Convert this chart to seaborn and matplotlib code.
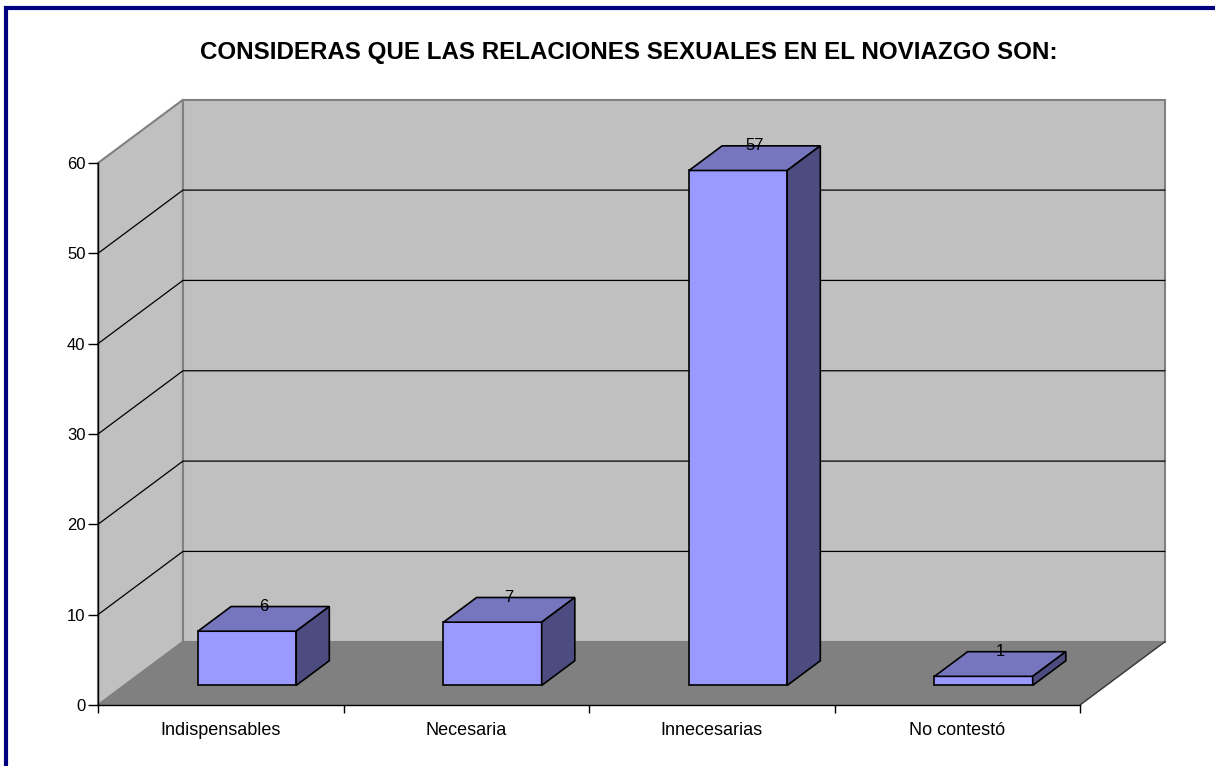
import numpy as np
import matplotlib
matplotlib.use("Agg")
import matplotlib.pyplot as plt
from matplotlib.patches import Polygon, Rectangle
from matplotlib.lines import Line2D
import seaborn as sns

# chart data
title = "CONSIDERAS QUE LAS RELACIONES SEXUALES EN EL NOVIAZGO SON:"
categories = ["Indispensables", "Necesaria", "Innecesarias", "No contestó"]
counts = [6, 7, 57, 1]
y_ticks = [0, 10, 20, 30, 40, 50, 60]

# 3d look (in data units of the front plane)
DX, DY = 0.346, 7.0          # full depth of the box
F0, FD = 0.31, 0.39          # where the bars sit in depth, and their depth
BAR_W = 0.4
FRONT, TOP, SIDE = "#9999FF", "#7676BF", "#4C4C80"
WALL, FLOOR, EDGE = "#C0C0C0", "#808080", "#808080"


def main():
    sns.set_style("white")
    plt.rcParams['font.family'] = ['Liberation Sans', 'DejaVu Sans']
    for key in ['text.color', 'xtick.color', 'ytick.color', 'axes.labelcolor']:
        plt.rcParams[key] = 'black'

    fig = plt.figure(figsize=(12.15, 7.66), dpi=100)
    ax = fig.add_axes([98 / 1215, 61 / 766, 982 / 1215, 542 / 766])
    ax.patch.set_visible(False)
    n = len(categories)
    ymax = y_ticks[-1]

    # walls and floor
    ax.add_patch(Rectangle((DX, DY), n, ymax, fc=WALL, ec=EDGE, lw=1.5,
                           clip_on=False, zorder=0.5))
    ax.add_patch(Polygon([(0, 0), (DX, DY), (DX, ymax + DY), (0, ymax)],
                         fc=WALL, ec=EDGE, lw=1.5, clip_on=False, zorder=0.5))
    ax.add_patch(Polygon([(0, 0), (n, 0), (n + DX, DY), (DX, DY)],
                         fc=FLOOR, ec='none', clip_on=False, zorder=0.6))
    ax.plot([n, n + DX], [0, DY], color='#333333', lw=1, clip_on=False, zorder=0.7)
    for v in y_ticks[1:-1]:
        ax.plot([0, DX, n + DX], [v, v + DY, v + DY], color='black', lw=0.9,
                clip_on=False, zorder=0.8)

    # bars: seaborn draws the front faces
    shift_x, shift_y = F0 * DX, F0 * DY
    ddx, ddy = FD * DX, FD * DY
    positions = np.arange(n) + 0.5 + shift_x
    sns.barplot(x=positions, y=counts, native_scale=True, orient='x', width=BAR_W,
                color=FRONT, saturation=1, edgecolor='black', linewidth=1.2,
                errorbar=None, ax=ax)

    for bar, val in zip(ax.containers[0], counts):
        bar.set_y(shift_y)
        bar.set_zorder(3)
        bar.set_clip_on(False)
        x0 = bar.get_x()
        x1 = x0 + bar.get_width()
        b, t = shift_y, shift_y + val
        ax.add_patch(Polygon([(x0, t), (x1, t), (x1 + ddx, t + ddy), (x0 + ddx, t + ddy)],
                             fc=TOP, ec='black', lw=1.2, clip_on=False, zorder=3))
        ax.add_patch(Polygon([(x1, b), (x1, t), (x1 + ddx, t + ddy), (x1 + ddx, b + ddy)],
                             fc=SIDE, ec='black', lw=1.2, clip_on=False, zorder=3))
        ax.text((x0 + x1) / 2 + ddx / 2, t + ddy, str(val), ha='center', va='center',
                fontsize=12, zorder=5)

    # axes
    ax.set_xlim(0, n)
    ax.set_ylim(0, ymax)
    ax.set_xlabel('')
    ax.set_ylabel('')
    ax.set_yticks(y_ticks)
    ax.set_xticks(range(n + 1))
    ax.set_xticklabels([])
    ax.set_xticks(np.arange(n) + 0.5, minor=True)
    ax.set_xticklabels(categories, minor=True)
    ax.tick_params(axis='y', direction='out', length=7, width=1, pad=2,
                   labelsize=12, left=True)
    ax.tick_params(axis='x', which='major', direction='out', length=6, width=1,
                   bottom=True)
    ax.tick_params(axis='x', which='minor', length=0, pad=12, labelsize=13)
    for side in ['top', 'right']:
        ax.spines[side].set_visible(False)
    for side in ['left', 'bottom']:
        ax.spines[side].set_color('black')
        ax.spines[side].set_linewidth(1)

    # title and frame
    fig.text(628.5 / 1215, 1 - 52 / 766, title, ha='center', va='center',
             fontsize=17.4, fontweight='bold')
    fig.add_artist(Line2D([4 / 1215, 1], [1 - 8 / 766, 1 - 8 / 766],
                          color='#000080', lw=3, solid_capstyle='butt'))
    fig.add_artist(Line2D([6 / 1215, 6 / 1215], [0, 1 - 6 / 766],
                          color='#000080', lw=3, solid_capstyle='butt'))

    plt.savefig('out.png', dpi=100)


if __name__ == "__main__":
    main()
